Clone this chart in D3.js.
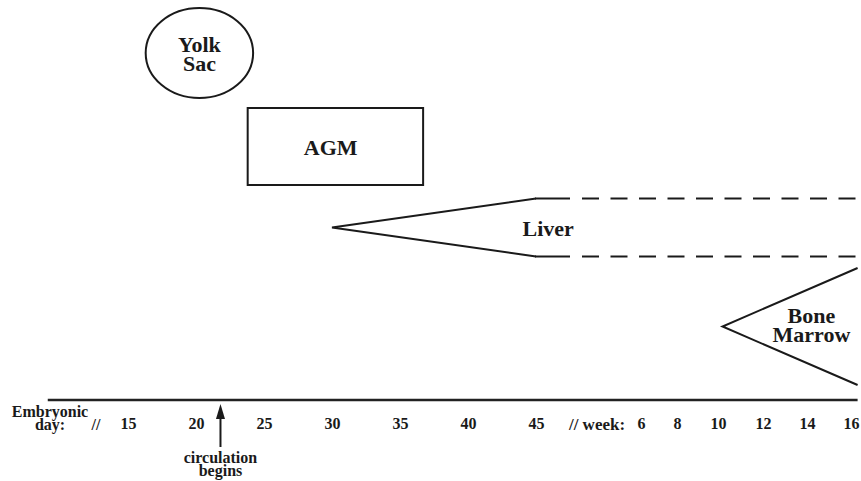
<!DOCTYPE html>
<html>
<head>
<meta charset="utf-8">
<script src="https://cdn.jsdelivr.net/npm/d3@7"></script>
<style>
  html, body { margin: 0; padding: 0; background: #fff; }
  svg { display: block; }
</style>
</head>
<body>
<svg id="chart" width="861" height="481"></svg>
<script>
// ---- data ----
const dayTicks = [15, 20, 25, 30, 35, 40, 45];
const weekTicks = [6, 8, 10, 12, 14, 16];
const organs = ["Yolk Sac", "AGM", "Liver", "Bone Marrow"];
const organShape = ["ellipse", "rect", "wedge", "wedge"];
const organStartUnit = ["day", "day", "day", "week"];
const organStart = [16.3, 23.8, 30, 10.2];
const organEndUnit = ["day", "day", "day", "week"];
const organEnd = [24.2, 36.7, 45, 16.3];
const organDashedEndUnit = [null, null, "week", null];
const organDashedEnd = [null, null, 16.3, null];
const organLabelUnit = ["day", "day", "day", "week"];
const organLabelAt = [20.25, 29.9, 45.9, 14.2];
const circulationDay = 21.8;
const axisEndWeek = 16.3;
const axisStartDay = 9.1;

// ---- scales ----
const xDay = d3.scaleLinear().domain([15, 45]).range([128, 536]);
const xWeek = d3.scaleLinear().domain([6, 8, 10, 12, 14, 16]).range([641, 677, 718, 763, 807, 851]);
const X = (unit, v) => unit === "week" ? xWeek(v) : xDay(v);
const yRow = d3.scaleOrdinal().domain(organs).range([53, 146.5, 227.5, 326.5]);
const halfH = d3.scaleOrdinal().domain(organs).range([45, 38.5, 29, 58.5]);

const FONT = '"Liberation Serif", "Times New Roman", Times, serif';
const ink = "#1a1a1a";
const svg = d3.select("#chart");

function label(sel, size) {
  return sel.style("font-family", FONT).style("font-weight", "bold")
    .style("font-size", size + "px").style("fill", ink);
}

// ---- organ shapes ----
organs.forEach((name, i) => {
  const x0 = X(organStartUnit[i], organStart[i]);
  const x1 = X(organEndUnit[i], organEnd[i]);
  const cy = yRow(name), h = halfH(name);
  const g = svg.append("g");
  if (organShape[i] === "ellipse") {
    g.append("ellipse").attr("cx", (x0 + x1) / 2).attr("cy", cy)
      .attr("rx", (x1 - x0) / 2).attr("ry", h)
      .attr("fill", "none").attr("stroke", ink).attr("stroke-width", 2);
  } else if (organShape[i] === "rect") {
    g.append("rect").attr("x", x0).attr("y", cy - h)
      .attr("width", x1 - x0).attr("height", 2 * h)
      .attr("fill", "none").attr("stroke", ink).attr("stroke-width", 2);
  } else {
    g.append("path").attr("d", d3.line()([[x1, cy - h], [x0, cy], [x1, cy + h]]))
      .attr("fill", "none").attr("stroke", ink).attr("stroke-width", 2);
    if (organDashedEnd[i] != null) {
      const xd = X(organDashedEndUnit[i], organDashedEnd[i]);
      [cy - h, cy + h].forEach(yy => {
        g.append("line").attr("x1", x1 - 1).attr("x2", x1 + 34).attr("y1", yy).attr("y2", yy)
          .attr("stroke", ink).attr("stroke-width", 2);
        g.append("line").attr("x1", x1 + 46).attr("x2", xd).attr("y1", yy).attr("y2", yy)
          .attr("stroke", ink).attr("stroke-width", 2)
          .attr("stroke-dasharray", "17,11.5");
      });
    }
  }
  const lx = X(organLabelUnit[i], organLabelAt[i]);
  const t = label(g.append("text").attr("text-anchor", "middle"), 22);
  if (name === "Yolk Sac") {
    t.append("tspan").attr("x", lx).attr("y", cy - 1.5).text("Yolk");
    t.append("tspan").attr("x", lx).attr("y", cy + 17.5).text("Sac");
  } else if (name === "Bone Marrow") {
    t.append("tspan").attr("x", lx).attr("y", cy - 3.5).text("Bone");
    t.append("tspan").attr("x", lx).attr("y", cy + 15.5).text("Marrow");
  } else {
    t.append("tspan").attr("x", lx).attr("y", cy + 8).text(name);
  }
});

// ---- axis ----
const axisY = 400;
svg.append("line").attr("x1", xDay(axisStartDay)).attr("x2", xWeek(axisEndWeek))
  .attr("y1", axisY).attr("y2", axisY)
  .attr("stroke", "#222").attr("stroke-width", 2.5);

function styleAxis(sel) {
  sel.attr("font-family", null).attr("font-size", null);
  sel.select(".domain").remove();
  sel.selectAll(".tick line").remove();
  label(sel.selectAll(".tick text"), 16);
}
svg.append("g").attr("transform", "translate(0,418)")
  .call(d3.axisBottom(xDay).tickValues(dayTicks).tickSize(0).tickPadding(0))
  .call(styleAxis);
svg.append("g").attr("transform", "translate(0,418)")
  .call(d3.axisBottom(xWeek).tickValues(weekTicks).tickSize(0).tickPadding(0))
  .call(styleAxis);

label(svg.append("text").attr("x", 50).attr("y", 417).attr("text-anchor", "middle"), 16).text("Embryonic");
label(svg.append("text").attr("x", 50).attr("y", 430).attr("text-anchor", "middle"), 16).text("day:");
label(svg.append("text").attr("x", 96).attr("y", 430).attr("text-anchor", "middle"), 16).text("//");
label(svg.append("text").attr("x", 597).attr("y", 430).attr("text-anchor", "middle"), 17).text("// week:");

// circulation arrow
const cx = xDay(circulationDay);
svg.append("line").attr("x1", cx).attr("x2", cx).attr("y1", 447).attr("y2", 416)
  .attr("stroke", ink).attr("stroke-width", 2);
svg.append("path").attr("d", d3.line()([[cx - 4.5, 419], [cx, 404], [cx + 4.5, 419]]) + "Z")
  .attr("fill", ink);
label(svg.append("text").attr("x", cx).attr("y", 463).attr("text-anchor", "middle"), 16).text("circulation");
label(svg.append("text").attr("x", cx).attr("y", 476).attr("text-anchor", "middle"), 16).text("begins");
</script>
</body>
</html>
